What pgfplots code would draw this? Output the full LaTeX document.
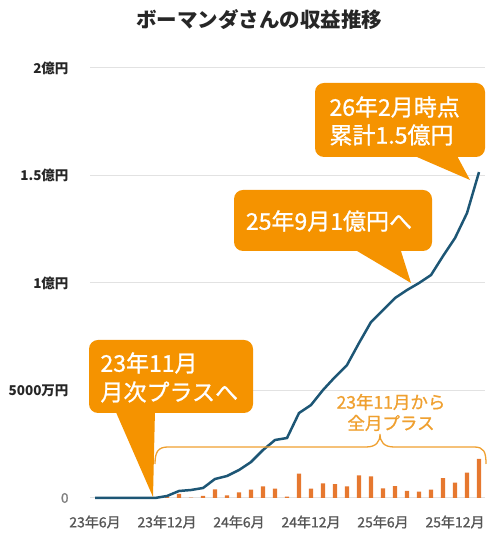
\documentclass[border=0pt]{standalone}
\usepackage{fontspec}
\setmainfont{Noto Sans CJK JP}
\newfontfamily\medfont{Noto Sans CJK JP}[FakeBold=1.0]
\usepackage{pgfplots}
\pgfplotsset{compat=1.18}
\definecolor{callout}{HTML}{F59300}
\definecolor{barcol}{HTML}{E6782F}
\definecolor{linecol}{HTML}{1D5675}
\definecolor{gold}{HTML}{EFA030}
\definecolor{gridc}{HTML}{E2E2E2}
\definecolor{xlab}{HTML}{555555}
\begin{document}
\begin{tikzpicture}[x=1bp,y=1bp]
\path[use as bounding box] (0,0) rectangle (500,543);
\begin{axis}[
  at={(90bp,45bp)}, anchor=south west,
  scale only axis, width=395bp, height=430bp,
  xmin=-0.4167, xmax=32.5, ymin=0, ymax=20000,
  axis line style={draw=none}, tick style={draw=none},
  ymajorgrids, grid style={draw=gridc, line width=1bp},
  xtick={0,6,12,18,24,30},
  xticklabels={23年6月,23年12月,24年6月,24年12月,25年6月,25年12月},
  ytick={0,5000,10000,15000,20000},
  yticklabels={{\mdseries\medfont\color{gray}0},5000万円,1億円,1.5億円,2億円},
  scaled y ticks=false,
  yticklabel style={anchor=east, xshift=-18bp, font=\bfseries\fontsize{13.5bp}{15bp}\selectfont, text=black!85},
  xticklabel style={yshift=-14bp, font=\medfont\fontsize{14bp}{16bp}\selectfont, text=xlab},
  clip=false,
]
\addplot[ybar, bar width=4.3bp, fill=barcol, draw=none] coordinates {
(6,79) (7,186) (8,23) (9,93) (10,405) (11,126) (12,265) (13,386) (14,544)
(15,432) (16,60) (17,1130) (18,432) (19,684) (20,651) (21,544) (22,1056)
(23,1009) (24,451) (25,558) (26,326) (27,293) (28,386) (29,930) (30,711)
(31,1176) (32,1814)};
\addplot[linecol, line width=2.5bp, no marks] coordinates {
(0,0) (1,0) (2,0) (3,0) (4,0) (5,0) (6,93) (7,326) (8,372) (9,465) (10,884)
(11,1023) (12,1302) (13,1674) (14,2232) (15,2697) (16,2790) (17,3953)
(18,4325) (19,5022) (20,5627) (21,6185) (22,7208) (23,8184) (24,8742)
(25,9300) (26,9672) (27,9998) (28,10370) (29,11253) (30,12090) (31,13253)
(32,15159)};
\end{axis}
\begin{scope}[yshift=543bp, y=-1bp]
% title
\node[font=\bfseries\fontsize{20.5bp}{24bp}\selectfont, text=black!85] at (259,20) {ボーマンダさんの収益推移};
% brace
\draw[gold, line width=1.3bp] (155,464) .. controls (155,452) and (158,447) .. (168,447)
  -- (366,447) .. controls (376,447) and (380,442) .. (380,434)
  .. controls (380,442) and (384,447) .. (394,447) -- (474,447)
  .. controls (484,447) and (486,452) .. (486,464);
\node[text=gold, font=\medfont\fontsize{17.5bp}{20bp}\selectfont] at (391,402) {23年11月から};
\node[text=gold, font=\medfont\fontsize{17.5bp}{20bp}\selectfont] at (391,423) {全月プラス};
% callout 1
\fill[callout, rounded corners=9bp] (89,340) rectangle (253,413);
\fill[callout] (115,410) -- (155,410) -- (153,497) -- cycle;
\node[anchor=west, text=white, font=\medfont\fontsize{23bp}{26bp}\selectfont] at (97,363) {23年11月};
\node[anchor=west, text=white, font=\medfont\fontsize{23bp}{26bp}\selectfont] at (97,392) {月次プラスへ};
% callout 2
\fill[callout, rounded corners=9bp] (234,190) rectangle (432,251);
\fill[callout] (352,248) -- (400,248) -- (411,283) -- cycle;
\node[text=white, font=\medfont\fontsize{23bp}{26bp}\selectfont] at (329,221) {25年9月1億円へ};
% callout 3
\fill[callout, rounded corners=9bp] (315,83) rectangle (485,157);
\fill[callout] (410,154) -- (456,154) -- (470,180) -- cycle;
\node[anchor=west, text=white, font=\medfont\fontsize{23bp}{26bp}\selectfont] at (326,107) {26年2月時点};
\node[anchor=west, text=white, font=\medfont\fontsize{23bp}{26bp}\selectfont] at (326,135) {累計1.5億円};
\end{scope}
\end{tikzpicture}
\end{document}
